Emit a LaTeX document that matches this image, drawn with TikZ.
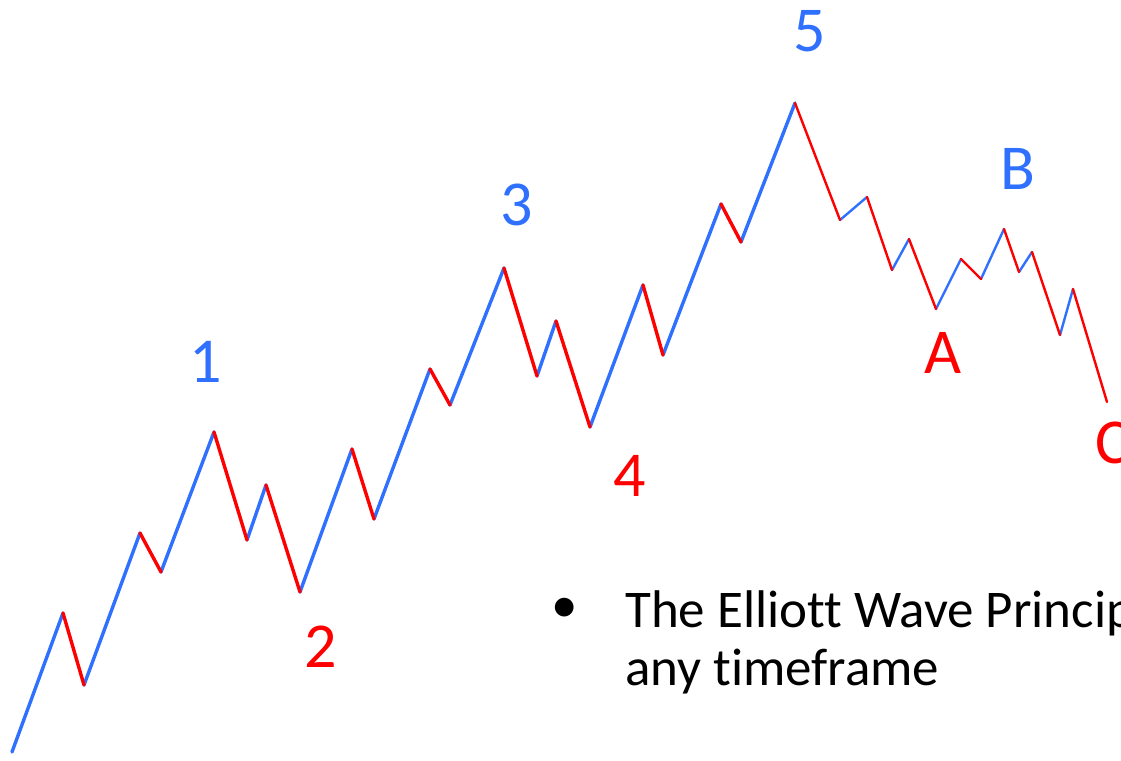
\documentclass[tikz,border=0pt]{standalone}
\usepackage{fontspec}
\setmainfont{Carlito}[Ligatures=NoCommon]
\usepackage{tikz}

\definecolor{waveblue}{RGB}{48,112,255}
\definecolor{wavered}{RGB}{255,0,0}

\begin{document}
\begin{tikzpicture}[
  x=1pt, y=-1pt,
  impulse/.style={line width=3.4pt, line join=round, line cap=round},
  corrective/.style={line width=2.4pt, line join=round, line cap=round},
  wavelabel/.style={font=\fontsize{64}{64}\selectfont, inner sep=0pt},
  notetext/.style={font=\fontsize{53}{58}\selectfont, inner sep=0pt}
]

%% ── canvas ───────────────────────────────────────────────────────────────────
\fill[white] (0,0) rectangle (1121,760);
\useasboundingbox (0,0) rectangle (1121,760);

%% ── wave vertices (w0 .. w34) ────────────────────────────────────────────────
\foreach \px/\py [count=\i from 0] in {
  12/752, 63/613, 84/685, 140/533, 161/572, 214/432,      % wave 1
  247/540, 266/485, 300/592,                              % wave 2
  352/449, 374/519, 430/369, 450/405, 504/268,            % wave 3
  537/376, 556/321, 590/427,                              % wave 4
  643/285, 663/355, 721/204, 741/242, 795/103,            % wave 5
  840/220, 867/197, 892/270, 909/239, 936/309,            % wave A
  961/259, 981/279, 1004/229,                             % wave B
  1019/272, 1032/252, 1060/335, 1073/289, 1107/402}       % wave C
  \coordinate (w\i) at (\px,\py);

%% ── impulse legs 0 -> 5 ──────────────────────────────────────────────────────
\foreach \a/\b in {0/1, 2/3, 4/5, 6/7, 8/9, 10/11, 12/13, 14/15, 16/17, 18/19, 20/21}
  \draw[impulse, waveblue] (w\a) -- (w\b);
\foreach \a/\b in {1/2, 3/4, 5/6, 7/8, 9/10, 11/12, 13/14, 15/16, 17/18, 19/20}
  \draw[impulse, wavered] (w\a) -- (w\b);

%% ── corrective legs 5 -> C ───────────────────────────────────────────────────
\foreach \a/\b in {22/23, 24/25, 26/27, 28/29, 30/31, 32/33}
  \draw[corrective, waveblue] (w\a) -- (w\b);
\foreach \a/\b in {21/22, 23/24, 25/26, 27/28, 29/30, 31/32, 33/34}
  \draw[corrective, wavered] (w\a) -- (w\b);

%% ── wave labels ──────────────────────────────────────────────────────────────
\node[wavelabel, waveblue] (lbl1) at (206,362) {1};
\node[wavelabel, wavered]  (lbl2) at (321,647) {2};
\node[wavelabel, waveblue] (lbl3) at (517,205) {3};
\node[wavelabel, wavered]  (lbl4) at (630,476) {4};
\node[wavelabel, waveblue] (lbl5) at (810,31)  {5};
\node[wavelabel, wavered]  (lblA) at (943,353) {A};
\node[wavelabel, waveblue] (lblB) at (1018,169) {B};
\node[wavelabel, wavered]  (lblC) at (1113,443) {C};

%% ── bullet note (runs off the right edge) ────────────────────────────────────
\node[notetext] (bullet) at (565,610) {•};
\node[notetext, anchor=base west, align=left] (note) at (625,685)
  {The Elliott Wave Principle\\any timeframe};

\end{tikzpicture}
\end{document}
